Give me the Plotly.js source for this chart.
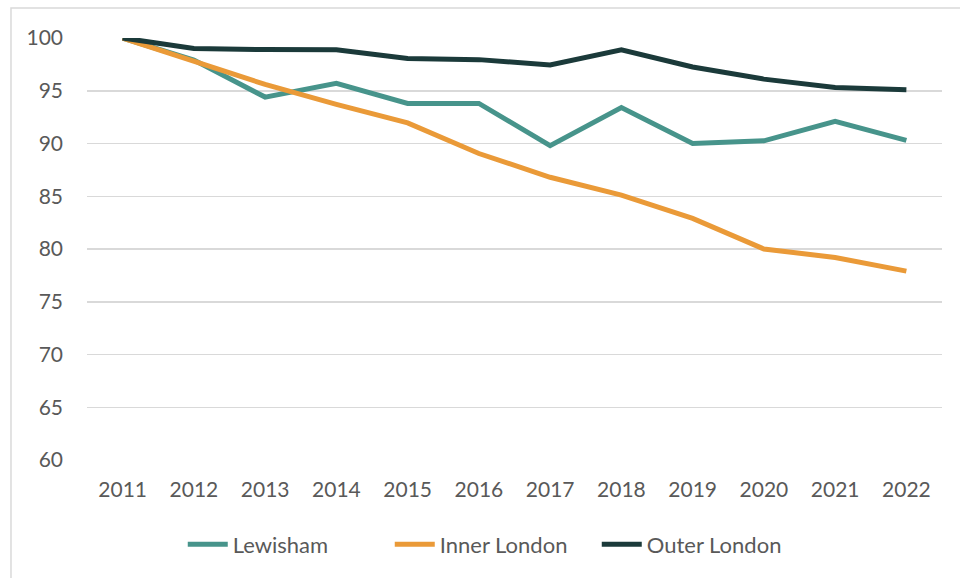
<!DOCTYPE html>
<html>
<head>
<meta charset="utf-8">
<script src="https://cdn.plot.ly/plotly-3.0.1.min.js"></script>
<style>html,body{margin:0;padding:0;background:#fff;}#chart{width:960px;height:578px;}</style>
</head>
<body>
<div id="chart"></div>
<script>
var years = ["2011","2012","2013","2014","2015","2016","2017","2018","2019","2020","2021","2022"];
var lewisham = [100, 97.9, 94.4, 95.7, 93.8, 93.8, 89.8, 93.4, 90.0, 90.25, 92.1, 90.3];
var innerLondon = [100, 97.8, 95.6, 93.7, 91.95, 89.05, 86.8, 85.1, 82.9, 80.0, 79.2, 77.9];
var outerLondon = [100, 99.0, 98.9, 98.88, 98.05, 97.95, 97.45, 98.88, 97.25, 96.1, 95.3, 95.1];
var yTicks = [60, 65, 70, 75, 80, 85, 90, 95, 100];

var fontFam = "Lato, 'Liberation Sans', sans-serif";
function tr(name, vals, color) {
  return {type: 'scatter', mode: 'lines', name: name, x: years, y: vals,
    line: {color: color, width: 5, shape: 'linear'}, hoverinfo: 'skip'};
}
var data = [
  tr('Lewisham', lewisham, '#47948B'),
  tr('Inner London', innerLondon, '#EA9A38'),
  tr('Outer London', outerLondon, '#1B3A3A')
];
var layout = {
  width: 960, height: 578,
  margin: {l: 87, r: 18, t: 38, b: 116},
  paper_bgcolor: '#ffffff', plot_bgcolor: '#ffffff',
  font: {family: fontFam, size: 21, color: '#595959'},
  showlegend: true,
  xaxis: {type: 'category', range: [-0.5, 11.5], showgrid: false, zeroline: false,
    showline: false, ticks: '', ticklabelstandoff: 15, tickfont: {size: 21, color: '#595959'}},
  yaxis: {range: [60, 100], tickvals: yTicks, ticktext: yTicks.map(String),
    showgrid: true, gridcolor: '#D9D9D9', gridwidth: 1.5, zeroline: false, showline: false,
    ticks: '', ticklabelstandoff: 23, tickfont: {size: 21, color: '#595959'}},
  legend: {orientation: 'h', x: 0.112, xanchor: 'left', y: -0.2, yanchor: 'middle',
    font: {size: 22, color: '#595959'}, itemwidth: 40, entrywidth: 152, entrywidthmode: 'pixels',
    traceorder: 'normal', bgcolor: 'rgba(0,0,0,0)'},
  shapes: [{type: 'rect', xref: 'paper', yref: 'paper', x0: -0.0889, x1: 1.05, y0: -0.35, y1: 1.0708,
    line: {color: '#D9D9D9', width: 1.5}, fillcolor: 'rgba(0,0,0,0)', layer: 'below'}]
};
Plotly.newPlot('chart', data, layout, {displayModeBar: false, staticPlot: true});
</script>
</body>
</html>
